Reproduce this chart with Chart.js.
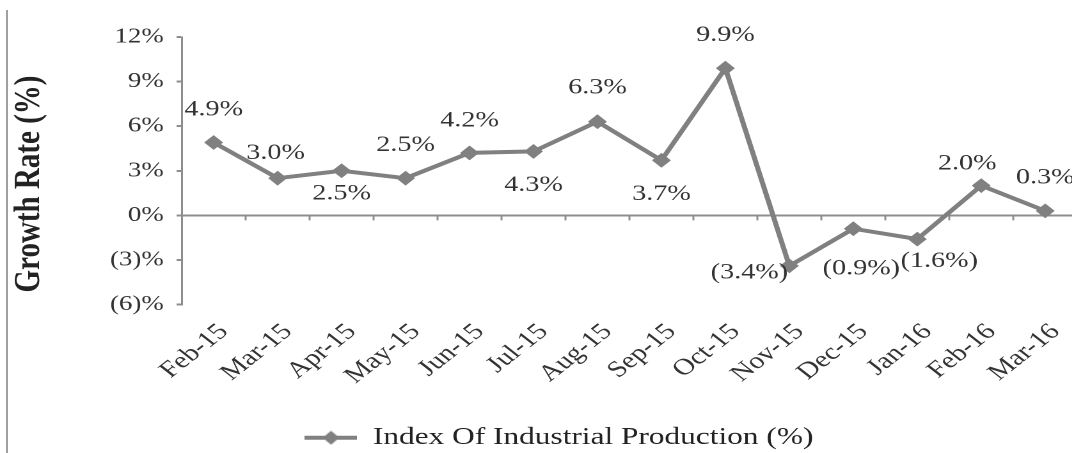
<!DOCTYPE html>
<html>
<head>
<meta charset="utf-8">
<script src="https://cdn.jsdelivr.net/npm/chart.js@4.4.1/dist/chart.umd.min.js"></script>
<style>
  html, body { margin: 0; padding: 0; background: #fff; overflow: hidden; }
  #wrap { position: relative; width: 1072px; height: 453px; overflow: hidden; }
  #edge { position: absolute; left: 6px; top: 10px; width: 2px; height: 443px; background: #a0a0a0; }
  /* the reference picture is stretched sideways, so the canvas is too */
  #c { position: absolute; left: 0; top: 0; width: 1090px !important; height: 453px !important; }
</style>
</head>
<body>
<div id="wrap">
  <div id="edge"></div>
  <canvas id="c" width="852" height="453" style="width:1090px;height:453px"></canvas>
</div>
<script>
const months = ['Feb-15', 'Mar-15', 'Apr-15', 'May-15', 'Jun-15', 'Jul-15', 'Aug-15',
  'Sep-15', 'Oct-15', 'Nov-15', 'Dec-15', 'Jan-16', 'Feb-16', 'Mar-16'];
const growth = [4.9, 2.5, 3.0, 2.5, 4.2, 4.3, 6.3, 3.7, 9.9, -3.4, -0.9, -1.6, 2.0, 0.3];
// labels as printed on the chart
const pointLabels = ['4.9%', '3.0%', '2.5%', '2.5%', '4.2%', '4.3%', '6.3%', '3.7%', '9.9%',
  '(3.4%)', '(0.9%)', '(1.6%)', '2.0%', '0.3%'];
const yMin = -6;
const yMax = 12;
const yStep = 3;
const seriesName = 'Index Of Industrial Production (%)';
const yTitle = 'Growth Rate (%)';

const STRETCH = 1090 / 852;
const SERIF = '"Liberation Serif", "Times New Roman", serif';
const GREY = '#808080';
const AXIS = '#8e8e8e';

// label offsets from their point, in screen px
const labelShift = [[0, -33], [-2, -25], [0, 23], [0, -33], [0, -32], [0, 34], [0, -34],
  [0, 34], [0, -33], [-40, 7], [8, 40], [22, 22], [-14, -22], [0, -33]];

function legendMark() {
  const c = document.createElement('canvas');
  c.width = 41; c.height = 16;
  const g = c.getContext('2d');
  g.strokeStyle = GREY; g.lineWidth = 4;
  g.beginPath(); g.moveTo(0, 8); g.lineTo(41, 8); g.stroke();
  g.fillStyle = GREY;
  g.beginPath(); g.moveTo(20.5, 1); g.lineTo(27, 8); g.lineTo(20.5, 15); g.lineTo(14, 8); g.closePath(); g.fill();
  return c;
}

const zeroTicks = {
  id: 'zeroTicks',
  beforeDatasetsDraw(chart) {
    const { ctx, scales: { x, y } } = chart;
    const y0 = y.getPixelForValue(0);
    ctx.save();
    ctx.strokeStyle = AXIS;
    ctx.lineWidth = 1.5;
    for (let i = 1; i < months.length; i++) {
      const xb = (x.getPixelForValue(i - 1) + x.getPixelForValue(i)) / 2;
      ctx.beginPath(); ctx.moveTo(xb, y0); ctx.lineTo(xb, y0 + 5); ctx.stroke();
    }
    ctx.restore();
  }
};

const valueLabels = {
  id: 'valueLabels',
  afterDatasetsDraw(chart) {
    const { ctx } = chart;
    const meta = chart.getDatasetMeta(0);
    ctx.save();
    ctx.font = '22px ' + SERIF;
    ctx.fillStyle = '#333';
    ctx.textAlign = 'center';
    ctx.textBaseline = 'middle';
    meta.data.forEach((pt, i) => {
      const [dx, dy] = labelShift[i];
      ctx.fillText(pointLabels[i], pt.x + dx / STRETCH, pt.y + dy);
    });
    ctx.restore();
  }
};

// y title sits a little below the middle of the axis in the reference
const axisTitle = {
  id: 'axisTitle',
  afterDraw(chart) {
    const { ctx } = chart;
    ctx.save();
    ctx.translate(23, 184);
    ctx.rotate(-Math.PI / 2);
    ctx.font = 'bold 29px ' + SERIF;
    ctx.fillStyle = '#222';
    ctx.textAlign = 'center';
    ctx.textBaseline = 'middle';
    ctx.fillText(yTitle, 0, 0);
    ctx.restore();
  }
};

const shiftLegend = {
  id: 'shiftLegend',
  afterLayout(chart) {
    const lg = chart.legend;
    lg.left += 16;
    lg.right += 16;
    lg.top += 7;
    lg.bottom += 7;
  }
};

new Chart(document.getElementById('c'), {
  type: 'line',
  data: {
    labels: months,
    datasets: [{
      label: seriesName,
      data: growth,
      borderColor: GREY,
      backgroundColor: GREY,
      borderWidth: 4,
      tension: 0,
      pointStyle: 'rectRot',
      pointRadius: 6,
      pointBorderWidth: 2,
      pointBackgroundColor: GREY,
      pointBorderColor: GREY
    }]
  },
  options: {
    responsive: false,
    animation: false,
    devicePixelRatio: 2,
    layout: { padding: { left: 0, top: 37, right: 10, bottom: 0 } },
    scales: {
      x: {
        type: 'category',
        offset: true,
        grid: { display: false },
        border: { display: false },
        ticks: {
          minRotation: 45,
          maxRotation: 45,
          padding: 6,
          labelOffset: 8,
          color: '#333',
          font: { family: SERIF, size: 23 }
        },
        afterFit: (s) => { s.height = 113; }
      },
      y: {
        min: yMin,
        max: yMax,
        grid: {
          color: (c) => (c.tick && c.tick.value === 0 ? AXIS : 'transparent'),
          tickColor: AXIS,
          tickLength: 4,
          lineWidth: 2
        },
        border: { display: true, color: AXIS, width: 1.5 },
        ticks: {
          stepSize: yStep,
          padding: 10,
          color: '#333',
          font: { family: SERIF, size: 21 },
          callback: (v) => (v < 0 ? '(' + (-v) + ')%' : v + '%')
        },
        afterFit: (s) => { s.width = 142; }
      }
    },
    plugins: {
      legend: {
        position: 'bottom',
        labels: {
          usePointStyle: true,
          pointStyle: legendMark(),
          pointStyleWidth: 41,
          padding: 1,
          color: '#222',
          font: { family: SERIF, size: 24.5 }
        }
      },
      tooltip: { enabled: false }
    }
  },
  plugins: [zeroTicks, valueLabels, axisTitle, shiftLegend]
});
</script>
</body>
</html>
